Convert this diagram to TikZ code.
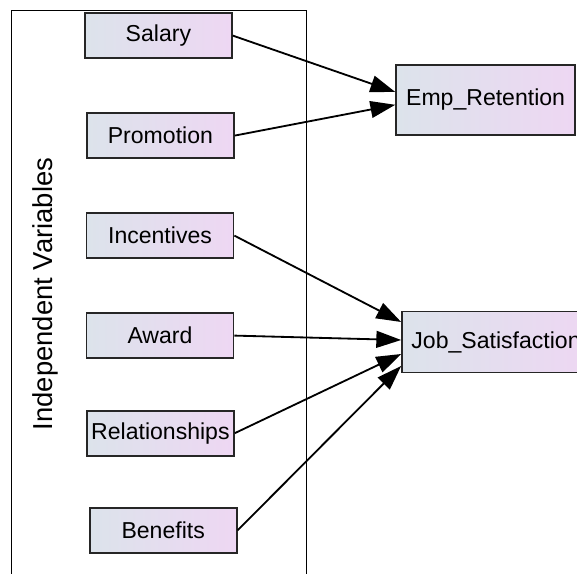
\documentclass[tikz,border=0pt]{standalone}
\usepackage{fontspec}
\setmainfont{Liberation Sans}
\usetikzlibrary{arrows.meta}
\definecolor{boxleft}{HTML}{DCE3EB}
\definecolor{boxright}{HTML}{EED7F3}

\begin{document}
\begin{tikzpicture}[
    var/.style={rectangle, draw=black!85, line width=1.2pt, left color=boxleft, right color=boxright, minimum width=3.675cm, minimum height=1.125cm, inner sep=1pt, align=center, font=\fontsize{16.4}{19}\selectfont},
    outcome/.style={var, minimum width=4.475cm, minimum height=1.75cm},
    arrow/.style={-{Triangle[length=0.62cm, width=0.42cm]}, line width=1.3pt}
]
\useasboundingbox (0,0) rectangle (14.425,-14.35);
\clip (0,0) rectangle (14.425,-14.35);

% Frame around the independent variables
\draw[line width=0.9pt] (0.28,-15) -- (0.28,-0.27) -- (7.67,-0.27) -- (7.67,-15);
\node[rotate=90, font=\fontsize{19.5}{22}\selectfont] (indep) at (1.13,-7.35) {Independent Variables};

% Left column: independent variables
\node[var] (salary) at (3.96,-0.89) {Salary};
\node[var] (promo) at (4.01,-3.39) {Promotion};
\node[var] (incent) at (4.0,-5.89) {Incentives};
\node[var] (award) at (4.0,-8.39) {Award};
\node[var] (relat) at (4.01,-10.83) {Relationships};
\node[var] (benef) at (4.08,-13.26) {Benefits};

% Right column: outcomes
\node[outcome] (empret) at (12.14,-2.5) {Emp\_Retention};
\node[outcome, minimum width=4.7cm, minimum height=1.525cm] (jobsat) at (12.4,-8.55) {Job\_Satisfaction};

% Arrows to Emp_Retention
\draw[arrow] (salary.east) -- ([yshift=0.2cm]empret.west);
\draw[arrow] (promo.east) -- ([yshift=-0.12cm]empret.west);

% Arrows to Job_Satisfaction
\draw[arrow] (incent.east) -- ([yshift=0.5cm]jobsat.west);
\draw[arrow] (award.east) -- ([yshift=0.05cm]jobsat.west);
\draw[arrow] (relat.east) -- ([yshift=-0.3cm]jobsat.west);
\draw[arrow] (benef.east) -- ([yshift=-0.6cm]jobsat.west);

\end{tikzpicture}
\end{document}
